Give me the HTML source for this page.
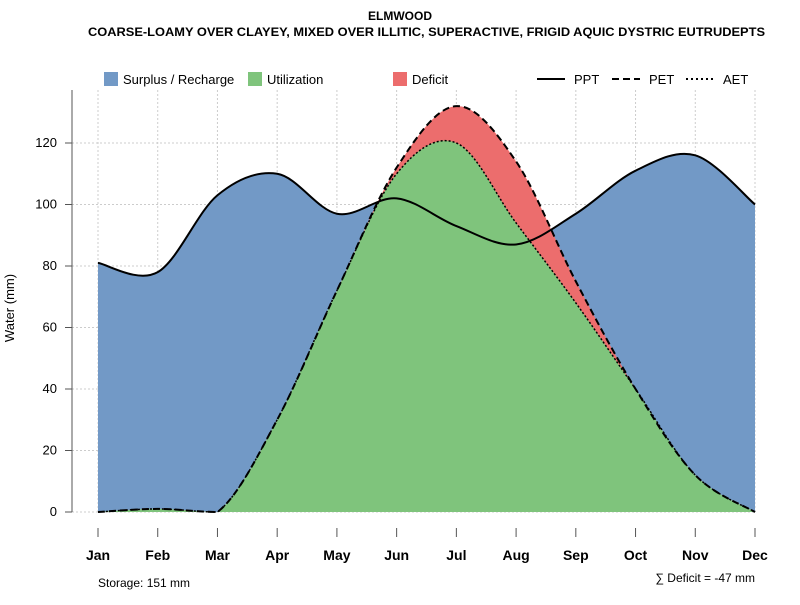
<!DOCTYPE html>
<html><head><meta charset="utf-8"><style>
body{margin:0;background:#fff;font-family:"Liberation Sans",sans-serif}
</style></head><body>
<svg id="chart" width="800" height="600" xmlns="http://www.w3.org/2000/svg" font-family="Liberation Sans, sans-serif">
<text x="400" y="20" text-anchor="middle" font-size="12" font-weight="bold">ELMWOOD</text>
<text x="88" y="36" font-size="12" font-weight="bold" textLength="677" lengthAdjust="spacingAndGlyphs">COARSE-LOAMY OVER CLAYEY, MIXED OVER ILLITIC, SUPERACTIVE, FRIGID AQUIC DYSTRIC EUTRUDEPTS</text>
<g id="grid"></g>
<g id="areas"></g>
<g id="lines"></g>
<g id="axes"></g>
<g font-size="13">
<rect x="104" y="72" width="14" height="14" fill="#7299c6"/>
<text x="123" y="84">Surplus / Recharge</text>
<rect x="248" y="72" width="14" height="14" fill="#7fc47c"/>
<text x="267" y="84">Utilization</text>
<rect x="393" y="72" width="14" height="14" fill="#ec6d6d"/>
<text x="412" y="84">Deficit</text>
<line x1="537" y1="79" x2="565" y2="79" stroke="#000" stroke-width="2"/>
<text x="574" y="84">PPT</text>
<line x1="612" y1="79" x2="640" y2="79" stroke="#000" stroke-width="2" stroke-dasharray="7,4"/>
<text x="649" y="84">PET</text>
<line x1="686" y1="79" x2="714" y2="79" stroke="#000" stroke-width="2" stroke-dasharray="2,3"/>
<text x="723" y="84">AET</text>
</g>
<text x="98" y="587" font-size="12">Storage: 151 mm</text>
<text x="755" y="582" font-size="12" text-anchor="end">∑ Deficit = -47 mm</text>
<text transform="translate(14,308) rotate(-90)" text-anchor="middle" font-size="13">Water (mm)</text>
</svg>
<script>
const months=["Jan","Feb","Mar","Apr","May","Jun","Jul","Aug","Sep","Oct","Nov","Dec"];
const ppt=[81,78,103,110,97,102,93,87,97,111,116,100];
const pet=[0,1,0,30,72,112,132,114,75,40,12,0];
const aet=[0,1,0,30,72,110,120,94,68,40,12,0];
const yTicks=[0,20,40,60,80,100,120];
const NS="http://www.w3.org/2000/svg";
const x0=98,x1=755,yBase=512,yScale=3.075;
const X=i=>x0+i*(x1-x0)/11;
const Y=v=>yBase-v*yScale;
function mk(tag,attrs,parent){const e=document.createElementNS(NS,tag);for(const k in attrs)e.setAttribute(k,attrs[k]);document.getElementById(parent).appendChild(e);return e;}
function curve(vals){
  const p=vals.map((v,i)=>[X(i),Y(v)]);let d="M"+p[0][0]+","+p[0][1];
  for(let i=0;i<p.length-1;i++){
    const a=p[Math.max(i-1,0)],b=p[i],c=p[i+1],e=p[Math.min(i+2,p.length-1)];
    const c1=[b[0]+(c[0]-a[0])/6,Math.min(yBase,b[1]+(c[1]-a[1])/6)],c2=[c[0]-(e[0]-b[0])/6,Math.min(yBase,c[1]-(e[1]-b[1])/6)];
    d+=` C${c1[0]},${c1[1]} ${c2[0]},${c2[1]} ${c[0]},${c[1]}`;
  }return d;}
const close=` L${X(11)},${yBase} L${X(0)},${yBase} Z`;
yTicks.forEach(t=>{const g=mk("line",{x1:72,x2:x1,y1:Y(t),y2:Y(t),stroke:"#ccc","stroke-dasharray":"2,2"},"grid");

});
months.forEach((m,i)=>{const g=mk("line",{x1:X(i),x2:X(i),y1:90,y2:yBase,stroke:"#ccc","stroke-dasharray":"2,2"},"grid");

});
const a1=mk("path",{d:curve(ppt)+close,fill:"#7299c6"},"areas");


const a2=mk("path",{d:curve(pet)+close,fill:"#ec6d6d"},"areas");


const a3=mk("path",{d:curve(aet)+close,fill:"#7fc47c"},"areas");


const l1=mk("path",{d:curve(ppt),fill:"none",stroke:"#000","stroke-width":2},"lines");


const l2=mk("path",{d:curve(pet),fill:"none",stroke:"#000","stroke-width":2,"stroke-dasharray":"7,4"},"lines");


const l3=mk("path",{d:curve(aet),fill:"none",stroke:"#000","stroke-width":1.5,"stroke-dasharray":"2,2"},"lines");


const ya=mk("line",{x1:72,x2:72,y1:90,y2:yBase,stroke:"#555"},"axes");


yTicks.forEach(t=>{const tk=mk("line",{x1:65,x2:72,y1:Y(t),y2:Y(t),stroke:"#555"},"axes");


const tx=mk("text",{x:57,y:Y(t)+4,"text-anchor":"end","font-size":13},"axes");tx.textContent=t;

});
months.forEach((m,i)=>{const tk=mk("line",{x1:X(i),x2:X(i),y1:528,y2:537,stroke:"#555"},"axes");


const tx=mk("text",{x:X(i),y:560,"text-anchor":"middle","font-size":14,"font-weight":"bold"},"axes");tx.textContent=m;

});
</script>
</body></html>
